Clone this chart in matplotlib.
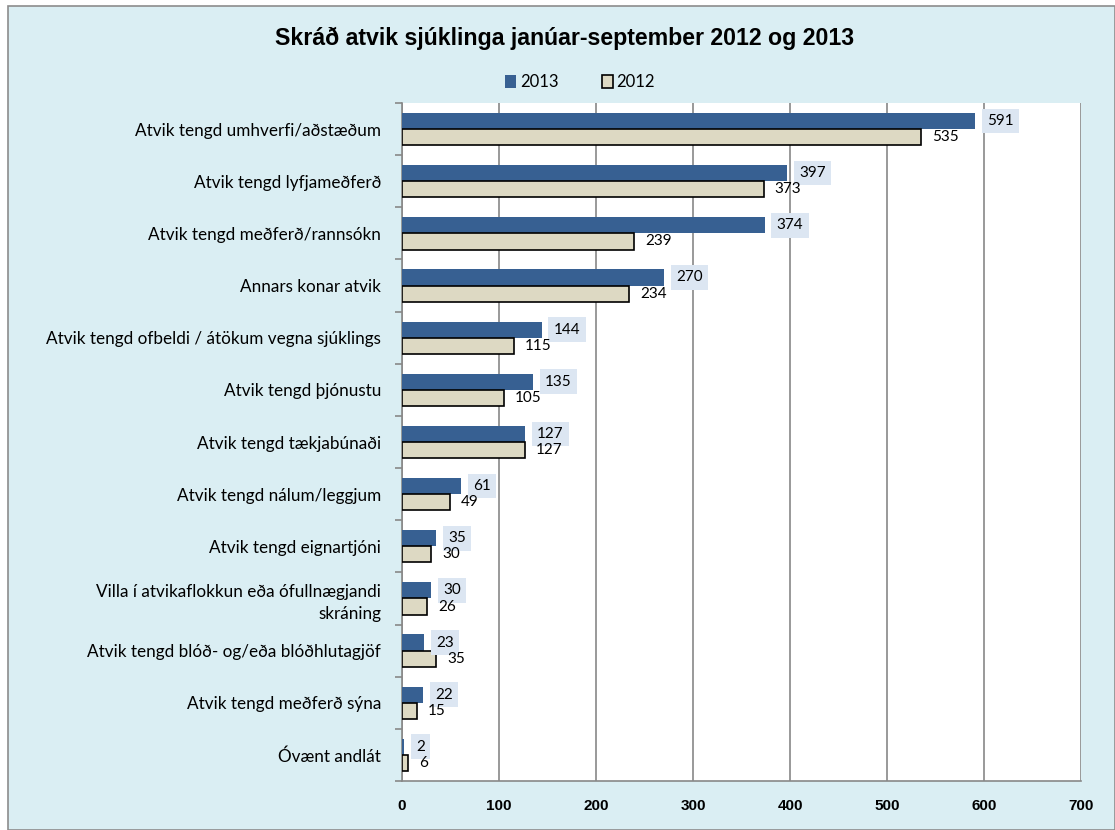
import matplotlib
matplotlib.use("Agg")
import matplotlib.pyplot as plt
from matplotlib.patches import Rectangle
import numpy as np

categories = [
    "Atvik tengd umhverfi/aðstæðum",
    "Atvik tengd lyfjameðferð",
    "Atvik tengd meðferð/rannsókn",
    "Annars konar atvik",
    "Atvik tengd ofbeldi / átökum vegna sjúklings",
    "Atvik tengd þjónustu",
    "Atvik tengd tækjabúnaði",
    "Atvik tengd nálum/leggjum",
    "Atvik tengd eignartjóni",
    "Villa í atvikaflokkun eða ófullnægjandi\nskráning",
    "Atvik tengd blóð- og/eða blóðhlutagjöf",
    "Atvik tengd meðferð sýna",
    "Óvænt andlát",
]
values_2013 = [591, 397, 374, 270, 144, 135, 127, 61, 35, 30, 23, 22, 2]
values_2012 = [535, 373, 239, 234, 115, 105, 127, 49, 30, 26, 35, 15, 6]
xticks = [0, 100, 200, 300, 400, 500, 600, 700]

W, H = 1115, 830
fig = plt.figure(figsize=(W / 100, H / 100), dpi=100)
fig.patch.set_facecolor("white")
bg = Rectangle((8 / W, 0), 1 - 8 / W, 1 - 6 / H, transform=fig.transFigure,
               facecolor="#DAEEF3", edgecolor="#8C8C8C", linewidth=1.2, zorder=-5)
fig.patches.append(bg)

lab_font = "Lato"
ax = fig.add_axes([402 / W, 1 - 781 / H, (1081 - 402) / W, (781 - 103) / H])
ax.set_zorder(2)
ax.set_facecolor("white")

n = len(categories)
y = np.arange(n)
h = 0.31
c13 = "#376092"
c12 = "#DDD9C3"
b13 = ax.barh(y - h / 2, values_2013, height=h, color=c13, edgecolor="none", zorder=3)
b12 = ax.barh(y + h / 2, values_2012, height=h, color=c12, edgecolor="black",
              linewidth=1.2, zorder=3)

for yi, v in zip(y, values_2013):
    ax.annotate(str(v), (v, yi - h / 2), xytext=(12, 0), textcoords="offset pixels",
                ha="left", va="center", fontsize=11, family=lab_font, zorder=4,
                bbox=dict(boxstyle="square,pad=0.35", facecolor="#DCE6F2", edgecolor="none"))
for yi, v in zip(y, values_2012):
    ax.annotate(str(v), (v, yi + h / 2), xytext=(11, 0), textcoords="offset pixels",
                ha="left", va="center", fontsize=11, family=lab_font, zorder=4)

ax.set_xlim(0, 700)
ax.set_ylim(n - 0.5, -0.5)
ax.set_xticks(xticks)
ax.set_xticklabels([str(t) for t in xticks], fontsize=11, fontweight="bold",
                   family="Liberation Sans")
ax.tick_params(axis="x", length=0, pad=13)
ax.grid(axis="x", color="#888888", linewidth=1.2, zorder=1)

ax.set_yticks(y)
ax.set_yticklabels(categories, fontsize=12.3, family=lab_font, linespacing=1.45)
ax.tick_params(axis="y", which="major", length=0, pad=15)
ax.set_yticks(np.arange(-0.5, n, 1), minor=True)
ax.tick_params(axis="y", which="minor", length=5, color="#888888", width=1.2)

for s in ["top", "right"]:
    ax.spines[s].set_visible(False)
ax.spines["left"].set_color("#888888")
ax.spines["left"].set_linewidth(1.2)
ax.spines["bottom"].set_color("#888888")
ax.spines["bottom"].set_linewidth(1.2)

fig.text(565 / W, 1 - 38 / H, "Skráð atvik sjúklinga janúar-september 2012 og 2013",
         ha="center", va="center", fontsize=16.7, fontweight="bold", family="Liberation Sans")

leg = fig.legend([b13, b12], ["2013", "2012"], loc="center", ncol=2,
                 bbox_to_anchor=(580 / W, 1 - 82 / H), frameon=False,
                 prop=dict(family=lab_font, size=12), handlelength=0.7, handleheight=0.8,
                 handletextpad=0.2, columnspacing=2.6)

fig.savefig("out.png", dpi=100)
